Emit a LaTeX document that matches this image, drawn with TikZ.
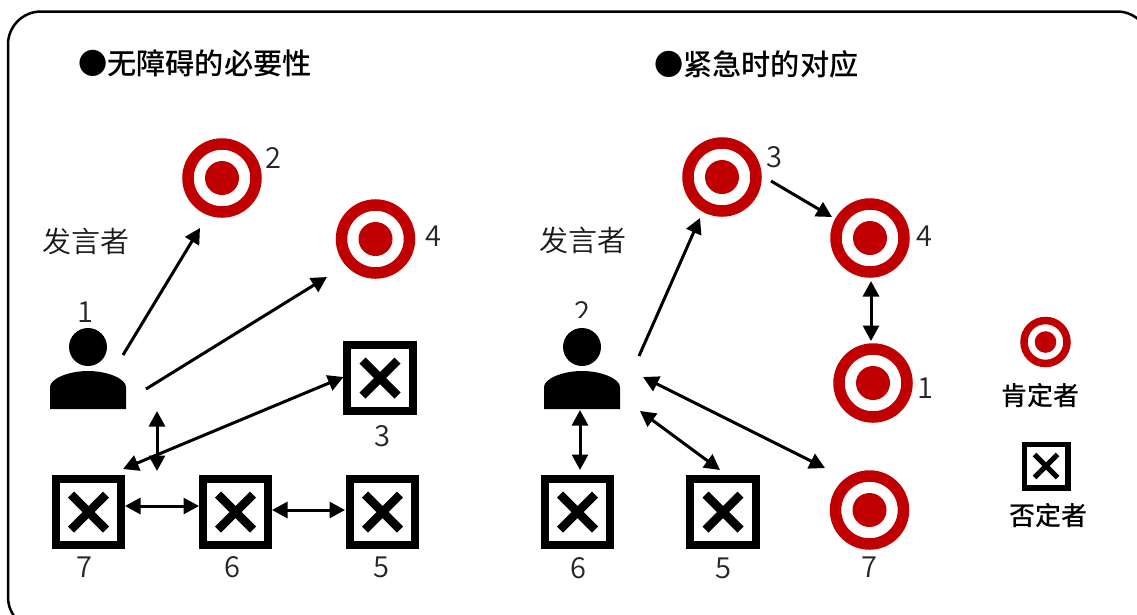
\documentclass[tikz,border=0pt]{standalone}
\usepackage{fontspec}
\setmainfont{Noto Sans CJK SC}
\newfontfamily\lightface{Noto Sans CJK SC DemiLight}
\newfontfamily\midface{Noto Sans CJK SC Medium}
\usetikzlibrary{arrows.meta}
\definecolor{tred}{RGB}{192,0,0}
\tikzset{
  every node/.style={inner sep=0pt,outer sep=0pt},
  titletext/.style={font=\midface\fontsize{29.2}{32}\selectfont,anchor=west},
  speaker/.style={font=\lightface\fontsize{29}{32}\selectfont,text=black!90},
  num/.style={font=\lightface\fontsize{29}{32}\selectfont,text=black!85},
  legendtext/.style={font=\midface\fontsize{26}{28}\selectfont},
  xbox/.style={draw=black,fill=white,line width=8pt,minimum size=65.5pt,rectangle,
    path picture={\draw[black,line width=8.5pt] ([xshift=-17.5pt,yshift=-17.5pt]path picture bounding box.center) -- ([xshift=17.5pt,yshift=17.5pt]path picture bounding box.center);
    \draw[black,line width=8.5pt] ([xshift=-17.5pt,yshift=17.5pt]path picture bounding box.center) -- ([xshift=17.5pt,yshift=-17.5pt]path picture bounding box.center);}},
  xboxs/.style={draw=black,fill=white,line width=5.5pt,minimum size=43.5pt,rectangle,
    path picture={\draw[black,line width=5.2pt] ([xshift=-11.5pt,yshift=-11.5pt]path picture bounding box.center) -- ([xshift=11.5pt,yshift=11.5pt]path picture bounding box.center);
    \draw[black,line width=5.2pt] ([xshift=-11.5pt,yshift=11.5pt]path picture bounding box.center) -- ([xshift=11.5pt,yshift=-11.5pt]path picture bounding box.center);}},
  target/.style={circle,draw=tred,line width=11.5pt,minimum size=68pt,fill=white,
    path picture={\fill[tred] (path picture bounding box.center) circle (17pt);}},
  targets/.style={circle,draw=tred,line width=7.5pt,minimum size=43pt,fill=white,
    path picture={\fill[tred] (path picture bounding box.center) circle (10.8pt);}},
  link/.style={line width=3pt,-{Triangle[length=15.5pt,width=16pt]}},
  dlink/.style={line width=3pt,{Triangle[length=15.5pt,width=16pt]}-{Triangle[length=15.5pt,width=16pt]}},
  person/.pic={
    \fill[black] (0,-62) circle (19);
    \fill[black] (-38,0) -- (-38,-22) .. controls (-38,-30) and (-20,-38) .. (0,-38)
       .. controls (20,-38) and (38,-30) .. (38,-22) -- (38,0) -- cycle;
  }
}
\begin{document}
\begin{tikzpicture}[x=1pt,y=-1pt]
\clip (0,0) rectangle (1137,614);
\fill[white] (0,0) rectangle (1137,614);
\draw[line width=2.5pt,rounded corners=33pt] (8,11.5) rectangle (1150,630);

\node[titletext] (t1) at (78,63.5) {●无障碍的必要性};
\node[titletext] (t2) at (654,64.5) {●紧急时的对应};
\node[speaker] (s1) at (86,241) {发言者};
\node[speaker] (s2) at (583,240) {发言者};

% left group
\node[target] (L2) at (222,178) {};
\node[target] (L4) at (375.5,239) {};
\node[xbox] (L3) at (380,378) {};
\node[xbox] (L7) at (88.5,512) {};
\node[xbox] (L6) at (235.5,512) {};
\node[xbox] (L5) at (382.5,512) {};
\node[num] (nL1) at (85,312) {1};
\node[num] (nL2) at (273,157.5) {2};
\node[num] (nL4) at (433,236) {4};
\node[num] (nL3) at (382,436.5) {3};
\node[num] (nL7) at (84,567) {7};
\node[num] (nL6) at (232,567) {6};
\node[num] (nL5) at (381,567) {5};
\pic at (88,409) {person};

% right group
\node[target] (R3) at (722,177) {};
\node[target] (R4) at (870,238) {};
\node[target] (R1) at (873,383) {};
\node[target] (R7) at (869.5,510) {};
\node[xbox] (R6) at (577.5,512) {};
\node[xbox] (R5) at (723,512) {};
\node[num] (nR2) at (582,312) {2};
\fill[white] (540,318) rectangle (625,328);
\node[num] (nR3) at (774,157) {3};
\node[num] (nR4) at (924,236) {4};
\node[num] (nR1) at (925,388) {1};
\node[num] (nR7) at (869.5,567) {7};
\node[num] (nR6) at (578,568) {6};
\node[num] (nR5) at (723,568) {5};
\pic at (582,409) {person};

% legend
\node[targets] (K1) at (1045.5,342) {};
\node[legendtext] (K1t) at (1040,396) {肯定者};
\node[xboxs] (K2) at (1046,466) {};
\node[legendtext] (K2t) at (1048,516) {否定者};

% connector ends
\coordinate (a1) at (123,355);  \coordinate (a2) at (200,228);
\coordinate (b1) at (146,389);  \coordinate (b2) at (327,277);
\coordinate (c1) at (123,469);  \coordinate (c2) at (343.5,377);
\coordinate (d1) at (157,411);  \coordinate (d2) at (157,471);
\coordinate (e1) at (125,506);  \coordinate (e2) at (199,506);
\coordinate (f1) at (272,510);  \coordinate (f2) at (345,510);
\coordinate (g1) at (639,356);  \coordinate (g2) at (700,218);
\coordinate (h1) at (771,181);  \coordinate (h2) at (832,217);
\coordinate (i1) at (871,281);  \coordinate (i2) at (871,341);
\coordinate (j1) at (643,377);  \coordinate (j2) at (825,468);
\coordinate (k1) at (640,411);  \coordinate (k2) at (720,470);
\coordinate (l1) at (580,410);  \coordinate (l2) at (580,470);

\draw[link] (a1) -- (a2);
\draw[link] (b1) -- (b2);
\draw[dlink] (c1) -- (c2);
\draw[dlink] (d1) -- (d2);
\draw[dlink] (e1) -- (e2);
\draw[dlink] (f1) -- (f2);
\draw[link] (g1) -- (g2);
\draw[link] (h1) -- (h2);
\draw[dlink] (i1) -- (i2);
\draw[dlink] (j1) -- (j2);
\draw[dlink] (k1) -- (k2);
\draw[dlink] (l1) -- (l2);
\end{tikzpicture}
\end{document}
